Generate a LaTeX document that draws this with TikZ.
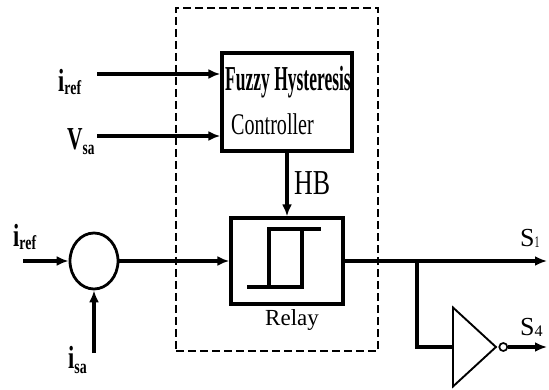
\documentclass[tikz,border=0pt]{standalone}
\usepackage{fontspec}
\usepackage{graphicx}
\setmainfont{Liberation Serif}
\usetikzlibrary{positioning, arrows.meta, shapes.geometric}
\newcommand{\lowsub}[2]{\raisebox{-#1}{\scalebox{0.62}{#2}}}
\newcommand{\narrow}[2]{\scalebox{#1}[1]{#2}}
\tikzset{
>={Latex[length=12pt,width=10pt]}, % filled arrow heads
sigline/.style={draw, line width=3.6pt},
sigarrow/.style={sigline, ->},
block/.style={draw, line width=3.4pt, inner sep=0pt},
ctrlbox/.style={draw, line width=2.6pt, dash pattern=on 8pt off 4pt, inner sep=0pt},
sumnode/.style={draw, ellipse, line width=2.8pt, minimum width=48pt, minimum height=56pt, inner sep=0pt},
inverter/.style={draw, isosceles triangle, isosceles triangle stretches, line width=1.9pt, minimum width=79pt, minimum height=43pt, inner sep=0pt},
bubble/.style={draw, circle, line width=1.7pt, minimum size=8pt, inner sep=0pt},
lbl/.style={inner sep=0pt, anchor=base west},
sig/.style={lbl, font=\fontsize{32}{32}\selectfont\bfseries},
}
\begin{document}
\begin{tikzpicture}[x=1pt, y=-1pt]
  \useasboundingbox (0,0) rectangle (549,390);

  % dashed controller frame
  \node[ctrlbox, minimum width=202pt, minimum height=343pt] (hcb) at (277,179.5) {};

  % blocks
  \node[block, minimum width=130pt, minimum height=98pt] (fhc) at (287,102) {};
  \node[block, minimum width=112pt, minimum height=86pt] (relay) at (287,261) {};
  \node[sumnode] (sum) at (94,261) {};
  \node[inverter, anchor=west] (inv) at (452,347) {};
  \node[bubble, right=0pt of inv.apex] (bub) {};

  % texts
  \node[lbl, font=\fontsize{35}{35}\selectfont\bfseries] (fhct1) at (225,91) {\narrow{0.5}{Fuzzy Hysteresis}};
  \node[lbl, font=\fontsize{30}{30}\selectfont] (fhct2) at (231,135) {\narrow{0.67}{Controller}};
  \node[lbl, font=\fontsize{35}{35}\selectfont] (hb) at (294,195) {\narrow{0.74}{HB}};
  \node[lbl, font=\fontsize{23}{23}\selectfont] (relayt) at (265,325) {Relay};

  % signal names
  \node[sig] (iref1) at (58,92) {\narrow{0.7}{i\lowsub{3pt}{ref}}};
  \node[sig] (vsa) at (67,150) {\narrow{0.67}{V\lowsub{5pt}{sa}}};
  \node[sig] (iref2) at (13,247) {\narrow{0.7}{i\lowsub{3pt}{ref}}};
  \node[sig] (isa) at (68,368) {\narrow{0.7}{i\lowsub{5pt}{sa}}};
  \node[lbl, font=\fontsize{26}{26}\selectfont] (s1) at (520,247) {S\narrow{0.6}{\lowsub{1pt}{1}}};
  \node[lbl, font=\fontsize{26}{26}\selectfont] (s4) at (520,335) {S\lowsub{1pt}{4}};

  % end points
  \coordinate (iin) at (97,74);
  \coordinate (vin) at (97,136);
  \coordinate (sin) at (23,261);
  \coordinate (sain) at (94,353);
  \coordinate (br) at (417,261);
  \coordinate (out1) at (547,261);
  \coordinate (out4) at (547,347);

  % connections
  \draw[sigarrow] (iin) -- (iin -| fhc.west);
  \draw[sigarrow] (vin) -- (vin -| fhc.west);
  \draw[sigarrow] (fhc.south) -- (relay.north);
  \draw[sigarrow] (sin) -- (sum.west);
  \draw[sigarrow] (sain) -- (sum.south);
  \draw[sigarrow] (sum.east) -- (relay.west);
  \draw[sigarrow] (relay.east) -- (out1);
  \draw[sigline] (br) |- (inv.west);
  \draw[sigarrow] (bub.east) -- (out4);

  % hysteresis curve
  \draw[sigline, shift={(relay.center)}] (-40,26) -- (15,26) -- (15,-32) -- (34,-32)
    (-18,26) -- (-18,-32) -- (15,-32);
\end{tikzpicture}
\end{document}
